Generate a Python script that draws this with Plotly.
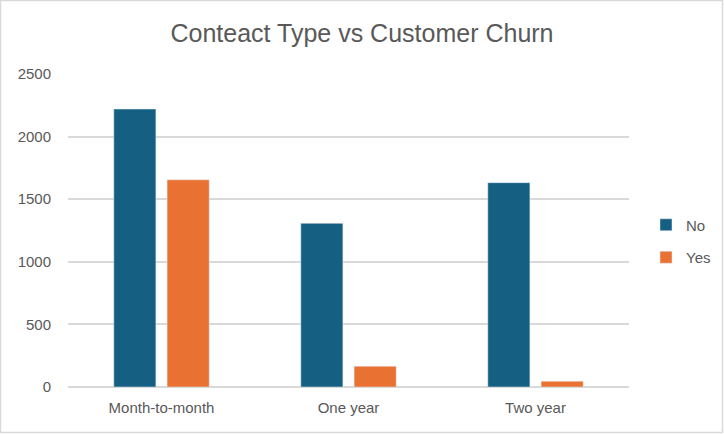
import plotly.graph_objects as go

categories = ["Month-to-month", "One year", "Two year"]
no_values = [2220, 1307, 1632]
yes_values = [1655, 166, 46]
y_ticks = [0, 500, 1000, 1500, 2000, 2500]

W, H = 724, 434
ML, MR, MT, MB = 68, 95, 74, 47
PW, PH = W - ML - MR, H - MT - MB

FONT = "Liberation Sans Narrow, Liberation Sans, Arial"
GREY = "#595959"

fig = go.Figure()
fig.add_trace(go.Bar(name="No", x=categories, y=no_values, marker_color="#156082",
                     legendgroup="a"))
fig.add_trace(go.Bar(name="Yes", x=categories, y=yes_values, marker_color="#E97132",
                     legendgroup="b"))

fig.update_layout(
    width=W, height=H,
    margin=dict(l=ML, r=MR, t=MT, b=MB, autoexpand=False),
    paper_bgcolor="white", plot_bgcolor="white",
    barmode="group", bargap=0.43, bargroupgap=0.21,
    title=dict(text="Conteact Type vs Customer Churn", x=0.5, xanchor="center",
               y=1 - 33 / H, yanchor="middle",
               font=dict(family=FONT, size=25, color=GREY)),
    font=dict(family=FONT, size=14, color=GREY),
    legend=dict(x=(646 - ML) / PW, y=1 - (241 - MT) / PH, xanchor="left", yanchor="middle",
                font=dict(size=15, color=GREY), tracegroupgap=10,
                traceorder="grouped", itemwidth=30),
    showlegend=True,
)
fig.update_yaxes(range=[0, 2500], tickvals=y_ticks, showgrid=True, gridcolor="#D9D9D9",
                 gridwidth=1.5, zeroline=True, zerolinecolor="#D9D9D9", zerolinewidth=1.5,
                 showline=False, ticks="", ticklabelstandoff=16,
                 tickfont=dict(size=15, color=GREY))
fig.update_xaxes(showline=False, ticks="", ticklabelstandoff=10,
                 tickfont=dict(size=15, color=GREY))

fig.add_shape(type="rect", xref="paper", yref="paper",
              x0=(0.5 - ML) / PW, x1=(W - 1.5 - ML) / PW,
              y0=-(MB - 1.5) / PH, y1=1 + (MT - 0.5) / PH,
              line=dict(color="#D9D9D9", width=1.5), fillcolor="rgba(0,0,0,0)", layer="below")

fig.write_html("out.html")
